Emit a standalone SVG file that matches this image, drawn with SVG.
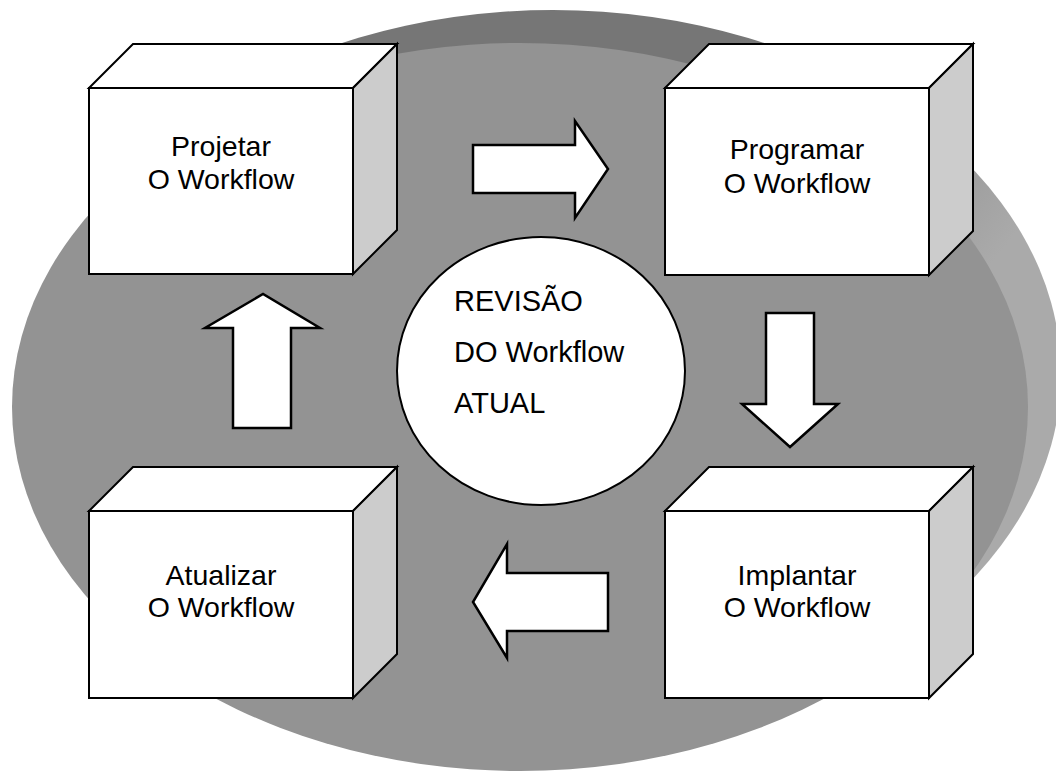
<svg xmlns="http://www.w3.org/2000/svg" width="1056" height="772" viewBox="0 0 1056 772">
<defs>
<linearGradient id="side" gradientUnits="userSpaceOnUse" x1="700" y1="80" x2="960" y2="300">
<stop offset="0" stop-color="#767676"/>
<stop offset="1" stop-color="#aaaaaa"/>
</linearGradient>
</defs>
<style>
.face{fill:#ffffff;stroke:#000;stroke-width:2;stroke-linejoin:miter}
.side{fill:#cccccc;stroke:#000;stroke-width:2}
.arr{fill:#ffffff;stroke:#000;stroke-width:2.5;stroke-linejoin:miter}
.lbl{font-family:"Liberation Sans",Arial,sans-serif;font-size:28.5px;fill:#000;text-anchor:middle}
.cl{font-family:"Liberation Sans",Arial,sans-serif;font-size:29px;fill:#000}
</style>
<g id="disc">
<ellipse cx="553" cy="374" rx="508" ry="364" fill="url(#side)"/>
<polygon points="107,195 140,162 966,586 933,619" fill="url(#side)"/>
<ellipse cx="520" cy="407" rx="508" ry="364" fill="#939393"/>
</g>
<g id="connectors">
<polygon class="arr" points="473,145 575,145 575,121 608,169 575,218 575,193 473,193"/>
<polygon class="arr" points="766,313 814,313 814,404 838,404 790,447 742,404 766,404"/>
<polygon class="arr" points="608,573 507,573 507,544 473,602 507,658 507,631 608,631"/>
<polygon class="arr" points="233,428 233,328 205,328 263,294 320,328 291,328 291,428"/>
</g>
<g id="center">
<ellipse cx="541" cy="371" rx="144" ry="134" fill="#ffffff" stroke="#000" stroke-width="2"/>
<text class="cl" x="454" y="311">REVISÃO</text>
<text class="cl" x="454" y="362">DO Workflow</text>
<text class="cl" x="454" y="413">ATUAL</text>
</g>
<g id="projetar">
<polygon class="face" points="89,88 133,44 397,44 353,88"/>
<polygon class="side" points="353,88 397,44 397,230 353,274"/>
<rect class="face" x="89" y="88" width="264" height="186"/>
<text class="lbl" x="221" y="156">Projetar</text>
<text class="lbl" x="221" y="189">O Workflow</text>
</g>
<g id="programar">
<polygon class="face" points="665,88 709,44 973,44 929,88"/>
<polygon class="side" points="929,88 973,44 973,231 929,275"/>
<rect class="face" x="665" y="88" width="264" height="187"/>
<text class="lbl" x="797" y="159">Programar</text>
<text class="lbl" x="797" y="193">O Workflow</text>
</g>
<g id="atualizar">
<polygon class="face" points="89,511 133,467 397,467 353,511"/>
<polygon class="side" points="353,511 397,467 397,654 353,698"/>
<rect class="face" x="89" y="511" width="264" height="187"/>
<text class="lbl" x="221" y="585">Atualizar</text>
<text class="lbl" x="221" y="617">O Workflow</text>
</g>
<g id="implantar">
<polygon class="face" points="665,511 709,467 973,467 929,511"/>
<polygon class="side" points="929,511 973,467 973,654 929,698"/>
<rect class="face" x="665" y="511" width="264" height="187"/>
<text class="lbl" x="797" y="585">Implantar</text>
<text class="lbl" x="797" y="617">O Workflow</text>
</g>
</svg>
